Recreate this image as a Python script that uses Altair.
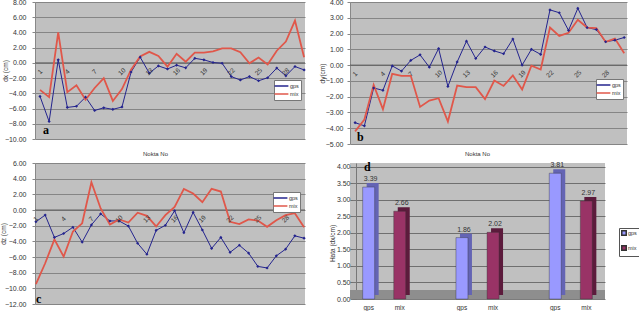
import altair as alt
import numpy as np
import pandas as pd

# Point numbers (Nokta No) along the horizontal axis
nokta = list(range(1, 31))

# dx (cm) per point
dx_gps = [-4.4, -7.7, 0.4, -5.85, -5.7, -4.5, -6.25, -5.9, -6.1, -5.8,
          -1.2, 0.75, -1.35, -0.4, -0.8, -0.3, -0.65, 0.6, 0.4, 0.05,
          -0.05, -1.8, -2.25, -1.8, -2.35, -1.95, -0.68, -1.7, -0.48, -0.92]
dx_mix = [-3.55, -4.5, 4.0, -3.85, -2.95, -4.85, -3.3, -2.0, -5.0, -3.45,
          -0.9, 0.85, 1.45, 0.9, -0.5, 1.2, 0.15, 1.35, 1.35, 1.5,
          1.9, 1.9, 1.4, -0.05, 0.7, -0.2, 1.6, 2.8, 5.55, 0.75]

# dy (cm) per point
dy_gps = [-3.65, -3.85, -1.45, -1.6, -0.05, -0.38, 0.3, 0.65, -0.13, 1.05,
          -1.35, 0.2, 1.52, 0.42, 1.15, 0.9, 0.72, 1.65, 0.0, 1.0,
          0.68, 3.5, 3.32, 2.2, 3.6, 2.38, 2.25, 1.48, 1.58, 1.75]
dy_mix = [-4.2, -3.45, -1.25, -2.8, -0.55, -0.68, -0.68, -2.65, -2.25, -2.1,
          -3.58, -1.3, -1.4, -1.4, -2.15, -0.98, -1.32, -0.66, -1.55, -0.03,
          -0.28, 2.38, 1.85, 2.05, 2.87, 2.38, 2.35, 1.47, 1.68, 0.75]

# dz (cm) per point
dz_gps = [-1.5, -0.65, -3.5, -3.0, -2.2, -4.1, -1.9, -0.5, -1.4, -1.4,
          -2.05, -4.25, -5.65, -2.6, -1.95, -0.1, -2.9, -0.3, -2.55, -4.9,
          -3.5, -5.4, -4.5, -5.5, -7.2, -7.4, -5.85, -5.0, -3.3, -3.6]
dz_mix = [-9.45, -6.8, -3.75, -5.95, -2.75, -1.7, 3.55, 0.2, -1.85, -1.2,
          -1.6, -0.35, -0.75, -2.1, -0.65, 0.4, 2.7, 2.1, 1.0, 2.7,
          2.35, -1.5, -1.8, -1.2, -1.35, -2.15, -1.3, -0.65, -0.4, -2.2]

seriler = ["gps", "mix"]

# Error summary (Hata) per component group
hata_grup = [1, 1, 2, 2, 3, 3]
hata_seri = ["gps", "mix", "gps", "mix", "gps", "mix"]
hata_deger = [3.39, 2.66, 1.86, 2.02, 3.81, 2.97]

MAVI = "#24248E"
KIRMIZI = "#E0574A"
GRI = "#C0C0C0"
IZGARA = "#858585"
YAZI = "#333333"
FONT = "Liberation Sans"

# a short horizontal stroke, wider than the legend's symbol box
LEJANT_CIZGI = "M-1.8,0H2.8"


def cizgi_paneli(gps, mix, y_alani, y_adim, genislik, yukseklik, x_alani,
                 y_baslik, y_baslik_x, lejant_x, lejant_y, harf, harf_x, harf_y,
                 x_baslik=None, x_baslik_x=0, x_baslik_y=0, etiket_pad=5):
    df = pd.DataFrame({
        "Nokta": nokta * 2,
        "seri": ["gps"] * len(gps) + ["mix"] * len(mix),
        "deger": gps + mix,
    })
    y_degerleri = [round(v, 2) for v in np.arange(y_alani[0], y_alani[1] + y_adim / 2, y_adim)]

    if x_baslik:
        x_eksen = alt.Axis(labels=False, ticks=False, domain=False, grid=False,
                           title=x_baslik, titleX=x_baslik_x, titleY=x_baslik_y,
                           titleFontSize=6, titleFontWeight="normal", titleColor=YAZI,
                           titleBaseline="middle", titleAlign="center", titleFont=FONT)
    else:
        x_eksen = None
    x_enc = alt.X("Nokta:Q", scale=alt.Scale(domain=x_alani, nice=False, zero=False), axis=x_eksen)
    y_enc = alt.Y("deger:Q",
                  scale=alt.Scale(domain=y_alani, nice=False, zero=False),
                  axis=alt.Axis(values=y_degerleri, format=".2f", labelFontSize=7,
                                labelColor=YAZI, labelFont=FONT, tickSize=3, tickColor="#888",
                                domainColor="#888", labelPadding=etiket_pad,
                                gridColor=IZGARA, gridWidth=1,
                                title=y_baslik, titleFontSize=6.5, titleFontWeight="normal",
                                titleColor=YAZI, titleFont=FONT, titleAngle=270,
                                titleX=y_baslik_x, titleY=yukseklik / 2,
                                titleBaseline="middle", titleAlign="center"))

    sifir = alt.Chart(pd.DataFrame({"deger": [0]})).mark_rule(
        color="#555555", strokeWidth=0.9).encode(y=y_enc)

    cizgi = alt.Chart(df).mark_line().encode(
        x=x_enc, y=y_enc,
        color=alt.Color("seri:N", scale=alt.Scale(domain=seriler, range=[MAVI, KIRMIZI]),
                        legend=alt.Legend(title=None, orient="none", legendX=lejant_x,
                                          legendY=lejant_y, symbolType=LEJANT_CIZGI,
                                          symbolSize=36, symbolStrokeWidth=1.5,
                                          labelFontSize=5.5, labelColor=YAZI, labelFont=FONT,
                                          fillColor="white", strokeColor="#777777",
                                          padding=2, rowPadding=0, labelOffset=6)),
        strokeWidth=alt.StrokeWidth("seri:N",
                                    scale=alt.Scale(domain=seriler, range=[1.0, 1.8]),
                                    legend=None),
    )

    noktalar = alt.Chart(df).transform_filter("datum.seri == 'gps'").mark_point(
        shape="diamond", filled=True, size=10, color=MAVI, opacity=1).encode(x=x_enc, y=y_enc)

    etiketler = alt.Chart(df).transform_filter(
        "datum.seri == 'gps' && (datum.Nokta - 1) % 3 == 0"
    ).transform_calculate(deger="0").mark_text(
        angle=315, yOffset=9, fontSize=6.5, color=YAZI, font=FONT
    ).encode(x=x_enc, y=y_enc, text="Nokta:Q")

    harf_katmani = alt.Chart(pd.DataFrame({"harf": [harf]})).mark_text(
        font="Liberation Serif", fontWeight="bold", fontSize=12, align="left",
        baseline="middle", color="black"
    ).encode(x=alt.value(harf_x), y=alt.value(harf_y), text="harf:N")

    return alt.layer(sifir, cizgi, noktalar, etiketler, harf_katmani).properties(
        width=genislik, height=yukseklik, view=alt.ViewBackground(fill=GRI, stroke=None))


pa = cizgi_paneli(dx_gps, dx_mix, [-10, 8], 2, 270, 137, [0.45, 30.1],
                  "dx (cm)", -30, 239, 78, "a", 8, 128,
                  x_baslik="Nokta No", x_baslik_x=120, x_baslik_y=14, etiket_pad=6)
pb = cizgi_paneli(dy_gps, dy_mix, [-5, 4], 1, 277, 142, [0.45, 30.3],
                  "dy(cm)", -28, 246, 77, "b", 7, 135,
                  x_baslik="Nokta No", x_baslik_x=127, x_baslik_y=9, etiket_pad=4)
pc = cizgi_paneli(dz_gps, dz_mix, [-12, 6], 2, 270, 141, [0.9, 30.1],
                  "dz (cm)", -32, 238, 29, "c", 1, 136, etiket_pad=6)

# Error bar chart with a simple depth effect
df_hata = pd.DataFrame({"grup": hata_grup, "seri": hata_seri, "deger": hata_deger})
slotlar = []
for g in sorted(set(hata_grup)):
    slotlar += [f"{g}-gps", f"{g}-mix"]
    if g != max(hata_grup):
        slotlar.append(f"{g}-bos")

d_x = alt.X("slot:N", scale=alt.Scale(domain=slotlar, paddingOuter=0.1, paddingInner=0),
            axis=alt.Axis(labelExpr="indexof(datum.value, 'bos') >= 0 ? '' : split(datum.value, '-')[1]",
                          labelAngle=0, labelFontSize=6.5, labelColor=YAZI, labelFont=FONT,
                          labelPadding=5, ticks=False, domain=False, grid=False, title=None))
d_y = alt.Y("deger:Q", scale=alt.Scale(domain=[0, 4.12], nice=False, zero=False),
            axis=alt.Axis(values=[0, 0.5, 1, 1.5, 2, 2.5, 3, 3.5, 4], format=".2f",
                          labelFontSize=7, labelColor=YAZI, labelFont=FONT, tickSize=4,
                          tickColor="#777", domainColor="#777", labelPadding=2, offset=-6,
                          gridColor="#5A5A5A", gridWidth=0.8,
                          title="Hata (dx/cm)", titleFontSize=6.5, titleFontWeight="normal",
                          titleColor=YAZI, titleFont=FONT, titleAngle=270, titleX=-24,
                          titleY=80, titleBaseline="middle", titleAlign="center"))

taban = alt.Chart(pd.DataFrame({"t": [0]})).mark_rect(color="#8E8E8E").encode(
    x=alt.value(0), x2=alt.value(255), y=alt.value(127), y2=alt.value(136))

yan = alt.Chart(df_hata).transform_calculate(
    slot="datum.grup + '-' + datum.seri").mark_bar(size=12, xOffset=4, yOffset=-4).encode(
    x=d_x, y=d_y,
    color=alt.condition("datum.seri == 'gps'", alt.value("#6464B4"), alt.value("#5C1B3C")))

on = alt.Chart(df_hata).transform_calculate(
    slot="datum.grup + '-' + datum.seri").mark_bar(size=12, stroke="#333", strokeWidth=0.4).encode(
    x=d_x, y=d_y,
    color=alt.Color("seri:N", scale=alt.Scale(domain=seriler, range=["#9999FF", "#993366"]),
                    legend=alt.Legend(title=None, orient="none", legendX=269, legendY=65,
                                      symbolType="square", symbolSize=20, symbolStrokeColor="#333",
                                      labelFontSize=5.5, labelColor=YAZI, labelFont=FONT,
                                      fillColor="white", strokeColor="#555555",
                                      padding=2, rowPadding=3, labelOffset=1)))

degerler = alt.Chart(df_hata).transform_calculate(
    slot="datum.grup + '-' + datum.seri").mark_text(
    dy=-8, dx=2, fontSize=7, color=YAZI, font=FONT).encode(
    x=d_x, y=d_y, text=alt.Text("deger:Q", format=".2f"))

harf_d = alt.Chart(pd.DataFrame({"harf": ["d"]})).mark_text(
    font="Liberation Serif", fontWeight="bold", fontSize=12, align="left",
    baseline="middle", color="black").encode(x=alt.value(14), y=alt.value(4), text="harf:N")

pd_ = alt.layer(taban, yan, on, degerler, harf_d).properties(
    width=255, height=136, view=alt.ViewBackground(fill=GRI, stroke=None))

chart = alt.concat(
    pa, pb, pc, pd_, columns=2, spacing={"row": 19, "column": 45},
    bounds="flush", align="each"
).resolve_scale(color="independent").properties(
    padding={"left": 35, "top": 2, "right": 604, "bottom": 309},
    autosize=alt.AutoSizeParams(type="none"),
).configure(background="white", font=FONT)

chart.save("out.html", embed_options={"renderer": "svg", "actions": False})
